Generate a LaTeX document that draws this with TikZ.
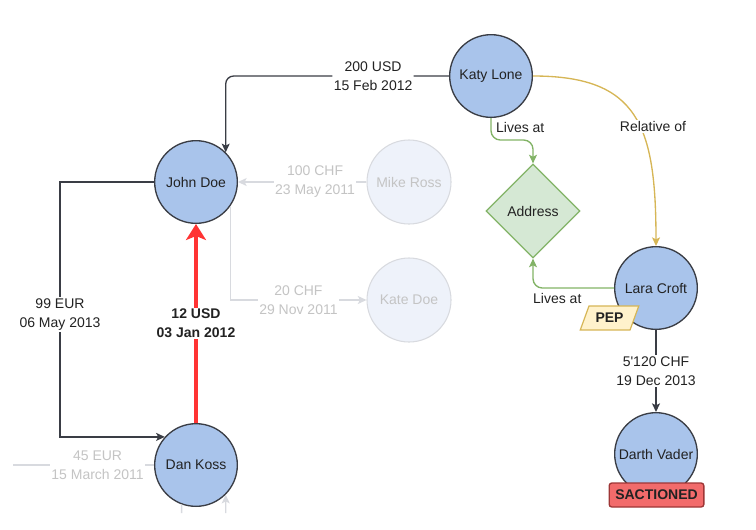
\documentclass[tikz,border=0pt]{standalone}
\usepackage{fontspec}
\setmainfont{Liberation Sans}
\usepackage{xcolor}
\usetikzlibrary{arrows.meta}
\usetikzlibrary{shapes.geometric}
\definecolor{personblue}{HTML}{A9C4EB}
\definecolor{rimgrey}{HTML}{3A3D45}
\definecolor{inkgrey}{HTML}{222222}
\definecolor{fadefill}{HTML}{EEF2FA}
\definecolor{fadeline}{HTML}{D8DADF}
\definecolor{fadetext}{HTML}{C4C4C4}
\definecolor{homefill}{HTML}{D5E8D4}
\definecolor{homeline}{HTML}{82B366}
\definecolor{kinline}{HTML}{D6B656}
\definecolor{pepfill}{HTML}{FFF2CC}
\definecolor{alertred}{HTML}{FF3333}
\definecolor{sanctfill}{HTML}{F26B6B}
\definecolor{sanctline}{HTML}{9E3636}

\begin{document}
\begin{tikzpicture}[x=0.75pt,y=-0.75pt,
	every node/.style={font=\fontsize{10.5}{14.25}\selectfont, align=center, text=inkgrey},
	person/.style={circle, draw=rimgrey, fill=personblue, line width=1pt, minimum size=62pt, inner sep=0pt},
	ghost/.style={circle, draw=fadeline, fill=fadefill, line width=0.8pt, minimum size=63pt, inner sep=0pt, text=fadetext},
	place/.style={diamond, draw=homeline, fill=homefill, line width=0.9pt, minimum size=70.5pt, inner sep=0pt},
	flow/.style={draw=rimgrey, line width=1pt, -{Stealth[length=6.5pt,width=6pt,inset=1.5pt]}},
	ghostflow/.style={draw=fadeline, line width=1pt, -{Stealth[length=6.5pt,width=6pt,inset=1.5pt]}},
	ghostline/.style={draw=fadeline, line width=1pt},
	alert/.style={draw=alertred, line width=3pt, -{Stealth[length=12pt,width=15pt,inset=3pt]}},
	home/.style={draw=homeline, line width=1pt, rounded corners=7pt, -{Stealth[length=6.5pt,width=6pt,inset=1.5pt]}},
	kin/.style={draw=kinline, line width=1pt, -{Stealth[length=6.5pt,width=6pt,inset=1.5pt]}},
	lbl/.style={fill=white, inner sep=1pt},
	ghostlbl/.style={fill=white, inner sep=1pt, text=fadetext},
	boldlbl/.style={fill=white, inner sep=1pt, font=\fontsize{10.5}{14.25}\selectfont\bfseries},
	pep/.style={trapezium, trapezium left angle=62, trapezium right angle=118, trapezium stretches=true,
		draw=kinline, fill=pepfill, line width=0.9pt, minimum width=44pt, minimum height=18pt, inner sep=1pt,
		font=\fontsize{10.5}{14.25}\selectfont\bfseries},
	sanction/.style={draw=sanctline, fill=sanctfill, line width=1pt, rounded corners=2pt,
		minimum width=71pt, minimum height=18pt, inner sep=0pt, font=\fontsize{10.5}{14.25}\selectfont\bfseries}]
	\useasboundingbox (0,0) rectangle (756,529);
	
	% People
	\node[person] (katy) at (491,76) {Katy Lone};
	\node[person] (john) at (196,182) {John Doe};
	\node[person] (dan) at (196,465) {Dan Koss};
	\node[person] (lara) at (656,288) {Lara Croft};
	\node[person] (darth) at (656,454) {Darth Vader};
	\node[ghost] (mike) at (409,182) {Mike Ross};
	\node[ghost] (kate) at (409,300) {Kate Doe};
	\node[place] (addr) at (533,211) {Address};
	
	% Tags
	\node[pep] (pep) at (609.5,318) {PEP};
	\node[sanction] (sanct) at (656.5,495) {SACTIONED};
	
	% Payments
	\draw[flow, rounded corners=6pt] (katy.west) -| node[pos=0.17, lbl] {200 USD\\15 Feb 2012} (john.45);
	\draw[flow] (john.west) -- ++(-94,0) |- node[pos=0.26, lbl] {99 EUR\\06 May 2013} (dan.138);
	\draw[alert] (dan.north) -- node[boldlbl] {12 USD\\03 Jan 2012} (john.south);
	\draw[flow] (lara.south) -- node[lbl] {5\textquotesingle120 CHF\\19 Dec 2013} (darth.north);
	
	% Old payments (faded)
	\draw[ghostflow] (mike.west) -- node[pos=0.4, ghostlbl] {100 CHF\\23 May 2011} (john.east);
	\draw[ghostflow] (john.-35) |- node[pos=0.75, ghostlbl] {20 CHF\\29 Nov 2011} (kate.west);
	\coordinate (offleft) at (13,465);
	\draw[ghostline] (offleft) -- node[pos=0.6, ghostlbl] {45 EUR\\15 March 2011} (dan.west);
	\coordinate (offbot1) at (181.6,513);
	\coordinate (offbot2) at (225.7,513);
	\draw[ghostline] (dan.-110) -- (offbot1);
	\draw[ghostflow] (offbot2) -- (dan.-45);
	
	% Links
	\draw[home] (katy.south) -- node[pos=0.45, right] {Lives at} ++(0,22) -| (addr.north);
	\draw[home] (lara.west) -| node[pos=0.35, below] {Lives at} (addr.south);
	\draw[kin] (katy.east) .. controls +(105,0) and +(0,-121) .. node[pos=0.56, lbl, xshift=10pt] {Relative of} (lara.north);
	
\end{tikzpicture}
\end{document}
